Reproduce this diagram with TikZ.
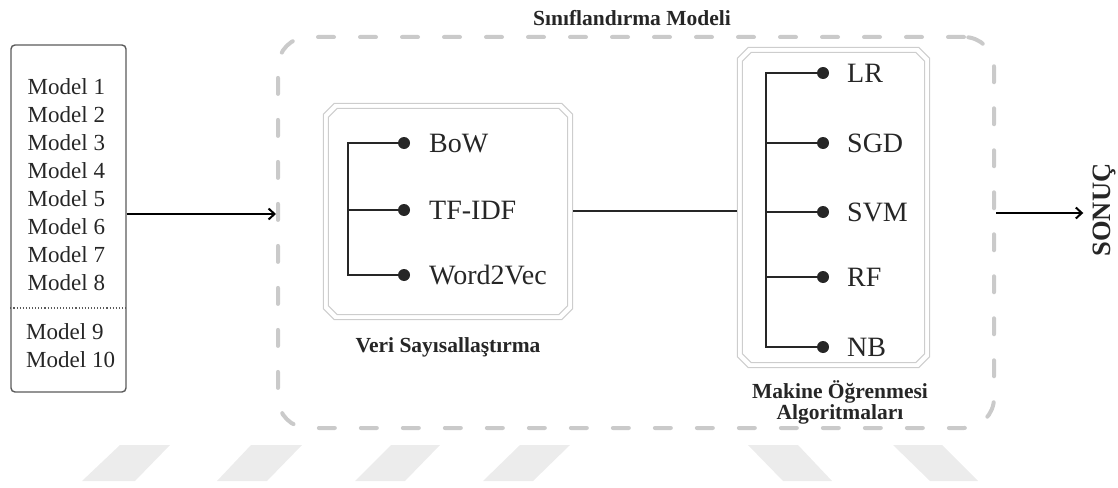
\documentclass[tikz,border=0pt]{standalone}
\usepackage{fontspec}
\setmainfont{Liberation Serif}
\usetikzlibrary{arrows.meta}
\definecolor{ink}{HTML}{262626}
\definecolor{boxgray}{HTML}{5A5A5A}
\definecolor{panelgray}{HTML}{CDCDCD}
\definecolor{dashgray}{HTML}{CACACA}
\definecolor{stripegray}{HTML}{ECECEC}
% octagonal frame line inside node #1, inset #2 (pt), corner cut #3 (pt)
\newcommand\cutframe[3]{%
  \draw[panelline]
    ([shift={({(#2+#3)*1pt},{-#2*1pt})}]#1.north west) --
    ([shift={({-(#2+#3)*1pt},{-#2*1pt})}]#1.north east) --
    ([shift={({-#2*1pt},{-(#2+#3)*1pt})}]#1.north east) --
    ([shift={({-#2*1pt},{(#2+#3)*1pt})}]#1.south east) --
    ([shift={({-(#2+#3)*1pt},{#2*1pt})}]#1.south east) --
    ([shift={({(#2+#3)*1pt},{#2*1pt})}]#1.south west) --
    ([shift={({#2*1pt},{(#2+#3)*1pt})}]#1.south west) --
    ([shift={({#2*1pt},{-(#2+#3)*1pt})}]#1.north west) -- cycle;}
\begin{document}
\begin{tikzpicture}[x=1pt,y=-1pt,
  modelbox/.style={draw=boxgray, line width=1.4pt, rounded corners=4pt,
    minimum width=115pt, minimum height=347pt, inner sep=0pt},
  modeltext/.style={text=ink, inner sep=0pt, anchor=west,
    font=\fontsize{23pt}{28pt}\selectfont, text height=15pt, text depth=0pt},
  outerbox/.style={draw=dashgray, line width=4pt, rounded corners=30pt,
    dash pattern=on 16pt off 26pt, line cap=round, inner sep=0pt},
  panel/.style={rectangle, draw=none, inner sep=0pt},
  panelline/.style={draw=panelgray, line width=1pt},
  leaf/.style={text=ink, inner sep=0pt, anchor=west,
    font=\fontsize{28pt}{34pt}\selectfont, text height=18.5pt, text depth=0pt},
  caption/.style={text=ink, inner sep=0pt, align=center,
    font=\bfseries\fontsize{21.5pt}{21pt}\selectfont},
  dot/.style={circle, fill=ink, minimum size=12pt, inner sep=0pt},
  branch/.style={draw=ink, line width=2pt, line cap=rect},
  flow/.style={draw=black, line width=2pt,
    -{Straight Barb[length=6pt,width=11pt,line width=2pt]}},
  link/.style={draw=ink, line width=2pt},
  stripe/.style={fill=stripegray, draw=none}]

\useasboundingbox (0,0) rectangle (1118,487);

% faint slanted bars along the bottom edge
\fill[stripe] (82,481) -- (120,445) -- (170,445) -- (135,481) -- cycle;
\fill[stripe] (217,481) -- (251,445) -- (302,445) -- (267,481) -- cycle;
\fill[stripe] (355,481) -- (391,445) -- (440,445) -- (405,481) -- cycle;
\fill[stripe] (483,481) -- (520,445) -- (570,445) -- (533,481) -- cycle;
\fill[stripe] (783,481) -- (748,445) -- (798,445) -- (832,481) -- cycle;
\fill[stripe] (930,481) -- (893,445) -- (942,445) -- (978,481) -- cycle;

% input models
\node[modelbox] (models) at (68.5,218.5) {};
\foreach \i in {1,...,8} {
  \node[modeltext] (m\i) at (27.5,{87+28*(\i-1)}) {Model \i};
}
\node[modeltext] (m9) at (26,332) {Model 9};
\node[modeltext] (m10) at (26,360) {Model 10};
\draw[boxgray, line width=1.1pt, dotted] (models.west |- 0,308) -- (models.east |- 0,308);

% classification model frame
\node[outerbox, minimum width=716pt, minimum height=391pt] (clf) at (636,232.5) {};
\node[caption] (clftitle) at (632,18) {Sınıflandırma Modeli};

% vectorisation panel
\node[panel, minimum width=250pt, minimum height=217pt] (veri) at (448,211.5) {};
\cutframe{veri}{0.5}{11}
\cutframe{veri}{5.5}{9}
\node[caption] (vericap) at (448,347) {Veri Sayısallaştırma};
\foreach \name/\txt/\y in {bow/BoW/143, tfidf/TF-IDF/210, w2v/Word2Vec/275} {
  \coordinate (\name-j) at (348,\y);
  \node[dot] (\name-d) at (404,\y) {};
  \node[leaf] (\name) at (429,\y) {\txt};
  \draw[branch] (\name-j) -- (\name-d);
}
\draw[branch] (bow-j) -- (w2v-j);

% machine learning panel
\node[panel, minimum width=193pt, minimum height=321pt] (mo) at (833.5,207.5) {};
\cutframe{mo}{0.5}{11}
\cutframe{mo}{5.5}{9}
\node[caption] (mocap) at (840,402) {Makine Öğrenmesi\\Algoritmaları};
\foreach \name/\txt/\y in {lr/LR/73, sgd/SGD/143, svm/SVM/212, rf/RF/277, nb/NB/347} {
  \coordinate (\name-j) at (766,\y);
  \node[dot] (\name-d) at (823,\y) {};
  \node[leaf] (\name) at (847,\y) {\txt};
  \draw[branch] (\name-j) -- (\name-d);
}
\draw[branch] (lr-j) -- (nb-j);

% result
\node[rotate=90, inner sep=0pt, text=ink,
  font=\bfseries\fontsize{26.5pt}{30pt}\selectfont] (sonuc) at (1104,210) {SONUÇ};

% connectors
\coordinate (flowin) at (0,214);
\coordinate (flowout) at (0,213);
\draw[flow] (models.east |- flowin) -- (clf.west |- flowin);
\draw[link] (veri.east |- 0,211) -- (mo.west |- 0,211);
\draw[flow, shorten >=9pt] (clf.east |- flowout) -- (sonuc.north |- flowout);
\end{tikzpicture}
\end{document}
